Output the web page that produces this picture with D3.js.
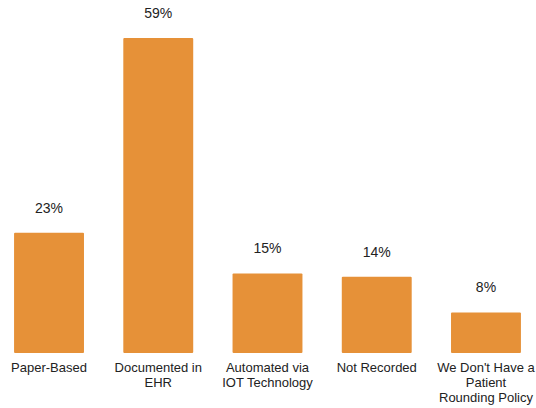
<!DOCTYPE html>
<html>
<head>
<meta charset="utf-8">
<script src="https://cdn.jsdelivr.net/npm/d3@7"></script>
<style>
  body { margin: 0; background: #fff; }
  text { font-family: "Liberation Sans", Arial, sans-serif; fill: #222; }
</style>
</head>
<body>
<div id="chart"></div>
<script>
// Chart data
var categories = ["Paper-Based", "Documented in EHR", "Automated via IOT Technology", "Not Recorded", "We Don't Have a Patient Rounding Policy"];
var labelLines = [
    ["Paper-Based"],
    ["Documented in", "EHR"],
    ["Automated via", "IOT Technology"],
    ["Not Recorded"],
    ["We Don't Have a", "Patient", "Rounding Policy"]
];
var values = [22.5, 59, 14.9, 14.3, 7.6];
var valueLabels = ["23%", "59%", "15%", "14%", "8%"];

var width = 536, height = 408;
var baseline = 353;

var svg = d3.select("#chart").append("svg")
    .attr("width", width)
    .attr("height", height);

var x = d3.scaleBand()
    .domain(categories)
    .range([-5.6, 540.6])
    .paddingInner(0.36)
    .paddingOuter(0.18);

var y = d3.scaleLinear()
    .domain([0, 59])
    .range([baseline, 38]);

var data = categories.map(function (c, i) {
    return { cat: c, value: values[i], label: valueLabels[i], lines: labelLines[i] };
});

// Bars
svg.selectAll("rect.bar")
    .data(data)
    .enter()
    .append("rect")
    .attr("class", "bar")
    .attr("fill", "#e69138")
    .attr("x", function (d) { return x(d.cat); })
    .attr("width", x.bandwidth())
    .attr("y", function (d) { return y(d.value); })
    .attr("height", function (d) { return baseline - y(d.value); })
    .attr("rx", 1);

// Value labels
svg.selectAll("text.value")
    .data(data)
    .enter()
    .append("text")
    .attr("class", "value")
    .attr("text-anchor", "middle")
    .attr("font-size", 14)
    .attr("x", function (d) { return x(d.cat) + x.bandwidth() / 2; })
    .attr("y", function (d) { return y(d.value) - 20; })
    .text(function (d) { return d.label; });

// Category labels
var cats = svg.selectAll("text.cat")
    .data(data)
    .enter()
    .append("text")
    .attr("class", "cat")
    .attr("text-anchor", "middle")
    .attr("font-size", 13)
    .attr("x", function (d) { return x(d.cat) + x.bandwidth() / 2; })
    .attr("y", 372);

cats.each(function (d) {
    var el = d3.select(this);
    d.lines.forEach(function (l, i) {
        el.append("tspan")
            .attr("x", x(d.cat) + x.bandwidth() / 2)
            .attr("dy", i === 0 ? 0 : 15)
            .text(l);
    });
});
</script>
</body>
</html>
